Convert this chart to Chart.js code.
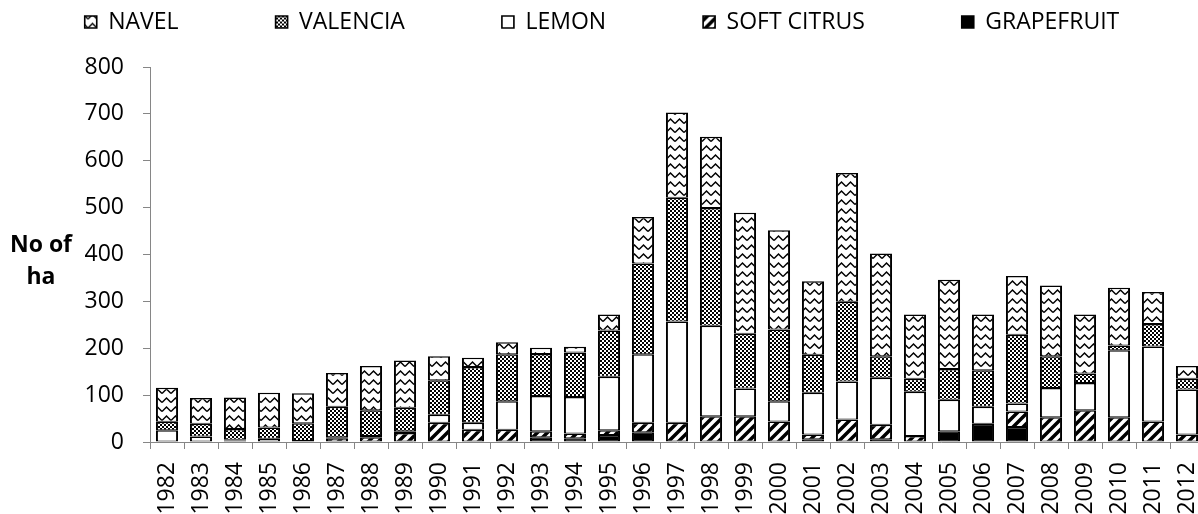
<!DOCTYPE html>
<html>
<head>
<meta charset="utf-8">
<script src="https://cdn.jsdelivr.net/npm/chart.js@4.4.1/dist/chart.umd.min.js"></script>
<style>
    html, body { margin: 0; padding: 0; background: #fff; overflow: hidden; }
    #wrap { position: relative; width: 1204px; height: 514px; }
    #ytitle { position: absolute; left: 0; top: 227px; width: 82px; text-align: center;
              font: bold 23px 'Open Sans', sans-serif; line-height: 32px; color: #000; }
</style>
</head>
<body>
<div id="wrap">
    <canvas id="citrusChart" width="1204" height="514"></canvas>
    <div id="ytitle">No of<br>ha</div>
</div>
<script>
    // new plantings per year, hectares
    var years = ['1982', '1983', '1984', '1985', '1986', '1987', '1988', '1989', '1990', '1991',
                 '1992', '1993', '1994', '1995', '1996', '1997', '1998', '1999', '2000', '2001',
                 '2002', '2003', '2004', '2005', '2006', '2007', '2008', '2009', '2010', '2011', '2012'];
    var grapefruit = [0, 0, 0, 0, 0, 0, 0, 0, 0, 0, 0, 10, 8, 15, 21, 0, 0, 0, 0, 6, 0, 6, 0, 23, 39, 32, 0, 0, 0, 0, 0];
    var softCitrus = [0, 0, 3, 0, 0, 8, 10, 19, 41, 26, 26, 13, 10, 10, 20, 41, 55, 55, 44, 10, 48, 31, 13, 0, 0, 33, 53, 68, 53, 44, 16];
    var lemon = [25, 12, 2, 7, 2, 2, 3, 4, 17, 15, 61, 75, 78, 114, 146, 216, 193, 59, 43, 89, 81, 100, 94, 67, 36, 17, 62, 58, 143, 160, 96];
    var valencia = [18, 27, 23, 24, 38, 65, 55, 50, 74, 119, 100, 90, 95, 99, 194, 264, 251, 117, 153, 81, 170, 46, 28, 66, 78, 147, 68, 20, 10, 48, 23];
    var navel = [73, 55, 67, 74, 64, 72, 94, 101, 51, 20, 26, 13, 12, 34, 99, 182, 152, 258, 212, 157, 275, 219, 137, 190, 119, 125, 151, 126, 123, 68, 27];

    var yMin = 0, yMax = 800, yStep = 100;

    var axisGrey = '#868686';

    function makePattern(w, h, paint) {
        var c = document.createElement('canvas');
        c.width = w;
        c.height = h;
        var g = c.getContext('2d');
        g.fillStyle = '#fff';
        g.fillRect(0, 0, w, h);
        paint(g);
        return g.createPattern(c, 'repeat');
    }

    var wavePattern = makePattern(9, 9, function (g) {
        g.strokeStyle = '#000';
        g.lineWidth = 1.5;
        g.beginPath();
        g.moveTo(0, 6.5);
        g.lineTo(4.5, 2);
        g.lineTo(9, 6.5);
        g.stroke();
    });
    var checkPattern = makePattern(4, 4, function (g) {
        g.fillStyle = '#000';
        g.fillRect(0, 0, 2, 2);
        g.fillRect(2, 2, 2, 2);
    });
    var stripePattern = makePattern(10, 10, function (g) {
        g.strokeStyle = '#000';
        g.lineWidth = 3.5;
        g.beginPath();
        g.moveTo(-5, 5); g.lineTo(5, -5);
        g.moveTo(0, 10); g.lineTo(10, 0);
        g.moveTo(5, 15); g.lineTo(15, 5);
        g.stroke();
    });

    function series(label, data, fill) {
        return {
            label: label,
            data: data,
            backgroundColor: fill,
            borderColor: '#000',
            borderWidth: { top: 1.5, bottom: 1, left: 2, right: 2 },
            borderSkipped: false,
            barPercentage: 0.65,
            categoryPercentage: 1
        };
    }

    // legend sits high above a tall reserved band, with wide gaps between items
    var legendBand = {
        id: 'legendBand',
        beforeInit: function (chart) {
            var legend = chart.legend;
            if (!legend) return;
            var fit = legend.fit;
            legend.fit = function () {
                this.maxWidth += 80;   // keep all five items on one row
                fit.call(this);
                this.maxWidth -= 80;
                this.width = Math.min(this.width, this.maxWidth);
                this.height = 67;
            };
            var drawItems = legend._draw;
            legend._draw = function () {
                // widen the row limit by 40 and shift back 20 so centring is unchanged
                this.right += 40;
                this.ctx.save();
                this.ctx.translate(-20, -86.5);
                drawItems.call(this);
                this.ctx.restore();
                this.right -= 40;
            };
        }
    };

    Chart.defaults.font.family = "'Open Sans', sans-serif";
    Chart.defaults.font.size = 23;
    Chart.defaults.color = '#000';

    new Chart(document.getElementById('citrusChart'), {
        type: 'bar',
        data: {
            labels: years,
            datasets: [
                series('GRAPEFRUIT', grapefruit, '#000'),
                series('SOFT CITRUS', softCitrus, stripePattern),
                series('LEMON', lemon, '#fff'),
                series('VALENCIA', valencia, checkPattern),
                series('NAVEL', navel, wavePattern)
            ]
        },
        options: {
            responsive: false,
            animation: false,
            layout: { padding: 0 },
            plugins: {
                legend: {
                    display: true,
                    position: 'top',
                    reverse: true,
                    labels: { boxWidth: 12, boxHeight: 12, padding: 97, color: '#000' }
                },
                tooltip: { enabled: false },
                title: { display: false }
            },
            scales: {
                x: {
                    stacked: true,
                    grid: { display: true, drawOnChartArea: false, offset: true, tickLength: 7, color: axisGrey },
                    border: { display: true, color: axisGrey, width: 1 },
                    ticks: { autoSkip: false, minRotation: 90, maxRotation: 90, padding: 13, color: '#000' },
                    afterFit: function (scale) {
                        scale.height = 72;
                        scale.paddingLeft = 0;
                        scale.paddingRight = 0;
                    }
                },
                y: {
                    stacked: true,
                    min: yMin,
                    max: yMax,
                    grid: { display: true, drawOnChartArea: false, tickLength: 7, color: axisGrey },
                    border: { display: true, color: axisGrey, width: 1 },
                    ticks: { stepSize: yStep, padding: 19, color: '#000' },
                    afterFit: function (scale) {
                        scale.width = 150;
                    }
                }
            }
        },
        plugins: [legendBand]
    });
</script>
</body>
</html>
